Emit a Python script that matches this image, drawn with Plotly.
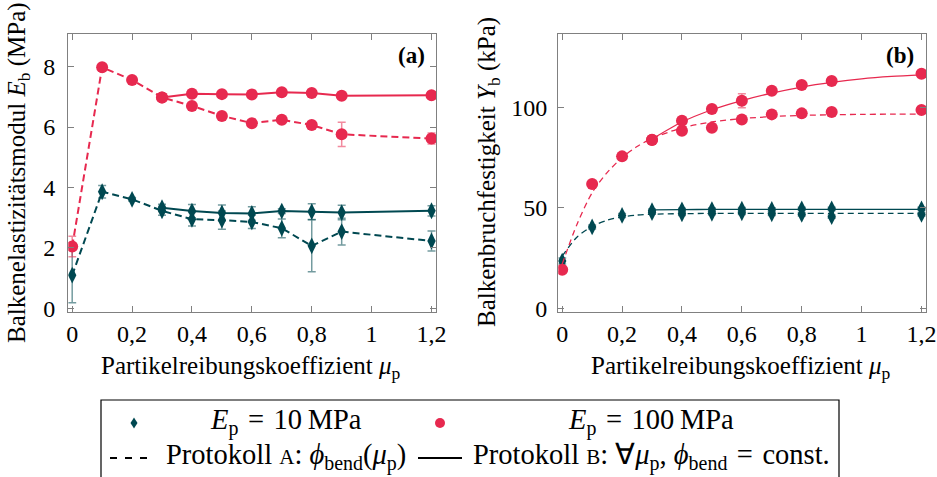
import plotly.graph_objects as go

W, H = 937, 477

# Partikelreibungskoeffizient
mu = [0, 0.1, 0.2, 0.3, 0.4, 0.5, 0.6, 0.7, 0.8, 0.9, 1.2]
mu_b = [0.3, 0.4, 0.5, 0.6, 0.7, 0.8, 0.9, 1.2]
x_tickvals = [0, 0.2, 0.4, 0.6, 0.8, 1.0, 1.2]
x_ticktext = ["0", "0,2", "0,4", "0,6", "0,8", "1", "1,2"]

# (a) Balkenelastizitätsmodul E_b in MPa
e_soft_a = [1.10, 3.86, 3.61, 3.23, 2.95, 2.92, 2.86, 2.65, 2.07, 2.54, 2.23]
e_soft_a_err = [0.91, 0.21, 0.06, 0.15, 0.22, 0.30, 0.22, 0.31, 0.86, 0.44, 0.33]
e_soft_b = [3.33, 3.22, 3.16, 3.14, 3.22, 3.20, 3.17, 3.23]
e_soft_b_err = [0.12, 0.22, 0.26, 0.22, 0.08, 0.26, 0.24, 0.17]
e_stiff_a = [2.05, 7.98, 7.56, 6.98, 6.70, 6.37, 6.13, 6.24, 6.07, 5.76, 5.62]
e_stiff_a_err = [0.34, 0.08, 0.08, 0.12, 0.08, 0.08, 0.10, 0.08, 0.08, 0.40, 0.18]
e_stiff_b = [6.98, 7.10, 7.09, 7.08, 7.15, 7.13, 7.04, 7.05]
e_stiff_b_err = [0.12, 0.06, 0.06, 0.06, 0.06, 0.06, 0.06, 0.06]

# (b) Balkenbruchfestigkeit Y_b in kPa
y_soft_a = [23.5, 40.5, 46.2, 47.6, 47.0, 47.3, 47.5, 47.0, 46.7, 45.6, 46.7]
y_soft_a_err = [1.5, 1.0, 1.0, 0.8, 0.8, 0.8, 0.8, 0.8, 0.8, 0.8, 0.8]
y_soft_b = [48.6, 49.0, 49.1, 49.3, 49.2, 49.5, 49.5, 49.5]
y_soft_b_err = [0.8, 0.8, 0.8, 0.8, 0.8, 0.8, 0.8, 0.8]
y_stiff_a = [19.2, 61.8, 75.6, 83.7, 88.4, 89.9, 94.0, 96.5, 97.0, 97.7, 98.7]
y_stiff_a_err = [1.0, 1.0, 1.0, 1.0, 1.0, 1.0, 1.0, 1.0, 1.0, 1.0, 1.0]
y_stiff_b = [83.9, 93.3, 99.2, 103.3, 108.3, 111.1, 113.1, 116.7]
y_stiff_b_err = [1.0, 1.0, 1.0, 3.5, 1.0, 1.0, 1.0, 1.0]

# Ausgleichskurven in (b)
mu_fit_a = [0, 0.05, 0.1, 0.15, 0.2, 0.25, 0.3, 0.4, 0.5, 0.6, 0.7, 0.8, 0.9, 1.0, 1.1, 1.2]
y_stiff_a_fit = [22.0, 42.0, 57.5, 67.5, 75.0, 80.5, 84.5, 89.8, 92.7, 94.4, 95.4, 96.0, 96.3, 96.5, 96.6, 96.6]
y_soft_a_fit = [26.0, 35.5, 40.8, 43.8, 45.5, 46.4, 46.8, 47.1, 47.2, 47.2, 47.2, 47.2, 47.2, 47.2, 47.2, 47.2]
mu_fit_b = [0.3, 0.4, 0.5, 0.6, 0.7, 0.8, 0.9, 1.0, 1.1, 1.2]
y_stiff_b_fit = [84.2, 92.7, 98.8, 103.4, 107.1, 110.1, 112.4, 114.2, 115.4, 116.2]
y_soft_b_fit = [49.0, 49.1, 49.2, 49.2, 49.2, 49.2, 49.2, 49.2, 49.2, 49.2]

RED = "#E7294F"
TEAL = "#004851"
RED_ERR = "rgba(231,41,79,0.55)"
TEAL_ERR = "rgba(0,72,81,0.55)"
GREY = "#808080"
FONT = "Liberation Serif"


def px(x):
    return x / W


def py(y):
    return 1 - y / H


fig = go.Figure()


def series(x, y, err, color, ecolor, symbol, size, dash, xa, ya, mode="lines+markers", lw=2):
    fig.add_trace(go.Scatter(
        x=x, y=y, mode=mode, xaxis=xa, yaxis=ya,
        line=dict(color=color, width=lw, dash=dash),
        marker=dict(symbol=symbol, size=size, color=color, line=dict(width=0)),
        error_y=dict(type="data", array=err, visible=True, color=ecolor, thickness=1.5, width=4),
        showlegend=False, hoverinfo="skip",
    ))


def fit(x, y, color, dash, xa, ya):
    fig.add_trace(go.Scatter(
        x=x, y=y, mode="lines", xaxis=xa, yaxis=ya,
        line=dict(color=color, width=1.3, dash=dash, shape="spline", smoothing=0.8),
        showlegend=False, hoverinfo="skip",
    ))


# (a)
series(mu, e_soft_a, e_soft_a_err, TEAL, TEAL_ERR, "diamond-tall", 12, "7px,4px", "x", "y")
series(mu_b, e_soft_b, e_soft_b_err, TEAL, TEAL_ERR, "diamond-tall", 12, "solid", "x", "y")
series(mu, e_stiff_a, e_stiff_a_err, RED, RED_ERR, "circle", 12, "7px,4px", "x", "y")
series(mu_b, e_stiff_b, e_stiff_b_err, RED, RED_ERR, "circle", 12, "solid", "x", "y")

# (b)
fit(mu_fit_a, y_soft_a_fit, TEAL, "6px,4px", "x2", "y2")
fit(mu_fit_b, y_soft_b_fit, TEAL, "solid", "x2", "y2")
series(mu, y_soft_a, y_soft_a_err, TEAL, TEAL_ERR, "diamond-tall", 12, "solid", "x2", "y2", mode="markers")
series(mu_b, y_soft_b, y_soft_b_err, TEAL, TEAL_ERR, "diamond-tall", 12, "solid", "x2", "y2", mode="markers")
fit(mu_fit_a, y_stiff_a_fit, RED, "6px,4px", "x2", "y2")
fit(mu_fit_b, y_stiff_b_fit, RED, "solid", "x2", "y2")
series(mu, y_stiff_a, y_stiff_a_err, RED, RED_ERR, "circle", 12, "solid", "x2", "y2", mode="markers")
series(mu_b, y_stiff_b, y_stiff_b_err, RED, RED_ERR, "circle", 12, "solid", "x2", "y2", mode="markers")

axis_common = dict(
    showline=True, linecolor=GREY, linewidth=1.3, mirror="ticks",
    ticks="inside", ticklen=6, tickcolor=GREY, tickwidth=1.2,
    showgrid=False, zeroline=False, automargin=False,
    tickfont=dict(family=FONT, size=24, color="black"),
)
xaxis_common = dict(axis_common, tickvals=x_tickvals, ticktext=x_ticktext, range=[-0.013, 1.215])

fig.update_layout(
    width=W, height=H,
    margin=dict(l=0, r=0, t=0, b=0),
    paper_bgcolor="white", plot_bgcolor="white",
    font=dict(family=FONT, size=24, color="black"),
    xaxis=dict(xaxis_common, domain=[px(68.3), px(436)], anchor="y"),
    yaxis=dict(axis_common, domain=[py(311.7), py(34)], anchor="x",
               range=[-0.11, 9.08], tickvals=[0, 2, 4, 6, 8], ticklabelstandoff=7),
    xaxis2=dict(xaxis_common, domain=[px(558.3), px(926)], anchor="y2"),
    yaxis2=dict(axis_common, domain=[py(311.7), py(34)], anchor="x2",
                range=[-1.7, 136.5], tickvals=[0, 50, 100], ticklabelstandoff=5),
)

ann = []


def text(x, y, s, size=24, angle=0, xanchor="center"):
    ann.append(dict(x=px(x), y=py(y), xref="paper", yref="paper", text=s, showarrow=False,
                    textangle=angle, xanchor=xanchor, yanchor="middle",
                    font=dict(family=FONT, size=size, color="black")))


text(411, 55, "<b>(a)</b>", 23)
text(900, 55, "<b>(b)</b>", 23)
text(251, 367, "Partikelreibungskoeffizient <i>μ</i><sub>p</sub>", 25)
text(741, 367, "Partikelreibungskoeffizient <i>μ</i><sub>p</sub>", 25)
text(18, 173, "Balkenelastizitätsmodul <i>E</i><sub>b</sub> (MPa)", 25, angle=-90)
text(488, 172, "Balkenbruchfestigkeit <i>Y</i><sub>b</sub> (kPa)", 25, angle=-90)

# Legende
EQ = "\u2004=\u2004"
text(286, 422, "<i>E</i><sub>p</sub>" + EQ + "10\u2009MPa", 28.5)
text(651, 422, "<i>E</i><sub>p</sub>" + EQ + "100\u2009MPa", 28.5)
text(286, 457, "Protokoll <span style='font-size:21px'>A</span>: <i>ϕ</i><sub>bend</sub>(<i>μ</i><sub>p</sub>)", 28.5)
text(651, 457, "Protokoll <span style='font-size:21px'>B</span>: ∀<i>μ</i><sub>p</sub>, <i>ϕ</i><sub>bend</sub>" + EQ + "const.", 28.5)

shapes = [
    dict(type="rect", xref="paper", yref="paper", x0=px(101), x1=px(839), y0=py(482), y1=py(400),
         line=dict(color="black", width=1.2), fillcolor="rgba(0,0,0,0)"),
    dict(type="path", xref="paper", yref="paper",
         path=f"M {px(134)},{py(417.5)} L {px(137.5)},{py(423)} L {px(134)},{py(428.5)} L {px(130.5)},{py(423)} Z",
         fillcolor=TEAL, line=dict(width=0)),
    dict(type="circle", xref="paper", yref="paper", x0=px(435), x1=px(445), y0=py(428), y1=py(418),
         fillcolor=RED, line=dict(width=0)),
    dict(type="line", xref="paper", yref="paper", x0=px(110), x1=px(150), y0=py(458), y1=py(458),
         line=dict(color="black", width=2, dash="7px,8px")),
    dict(type="line", xref="paper", yref="paper", x0=px(418), x1=px(462), y0=py(458), y1=py(458),
         line=dict(color="black", width=2)),
]

fig.update_layout(annotations=ann, shapes=shapes)
fig.write_html("out.html")
